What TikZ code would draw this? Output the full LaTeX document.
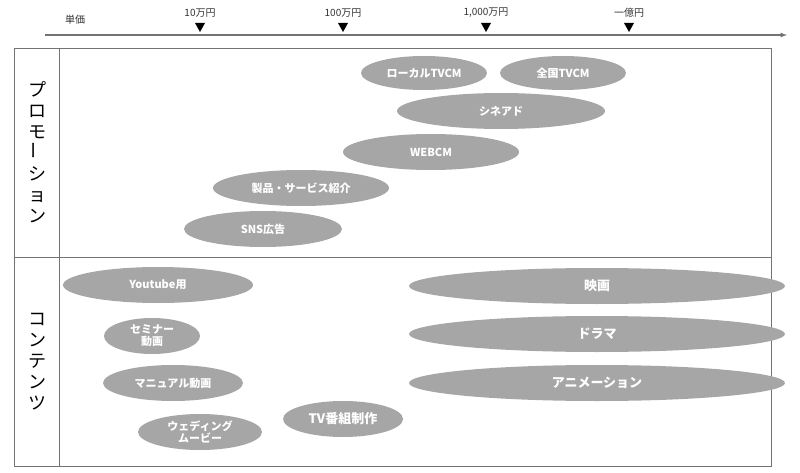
\documentclass[tikz,border=0pt]{standalone}
\usepackage{fontspec}
\setmainfont{Noto Sans CJK JP}
\begin{document}
\begin{tikzpicture}[x=1pt,y=-1pt,
  ell/.style={ellipse,fill=black!35,text=white,font=\bfseries\fontsize{11}{12}\selectfont,inner sep=0pt,align=center},
  tri/.style={fill=black,draw=none},
  lbl/.style={font=\fontsize{10}{12}\selectfont,text=black!80}]
\useasboundingbox (0,0) rectangle (800,473);
\usetikzlibrary{shapes.geometric}
\draw[black!55,line width=1.2pt,-latex] (45,35) -- (787,35);
\node[lbl] (tanka) at (75,20) {単価};
\foreach \x/\t/\n in {200/10万円/a,343/100万円/b,486/{1,000万円}/c,629/一億円/d}{
  \node[lbl] (l\n) at (\x,13) {\t};
  \fill (\x-5,23) -- (\x+5,23) -- (\x,32) -- cycle;
}
\draw[black!55,line width=0.8pt] (14,48) rectangle (771,466);
\draw[black!55,line width=0.8pt] (14,257) -- (771,257);
\draw[black!55,line width=0.8pt] (59,48) -- (59,466);
\node[font=\fontsize{18}{21}\selectfont,align=center] (promo) at (37,152) {プ\\ロ\\モ\\\rotatebox{90}{ー}\\シ\\ョ\\ン};
\node[font=\fontsize{18}{21}\selectfont,align=center] (cont) at (37,362) {コ\\ン\\テ\\ン\\ツ};
\node[ell,minimum width=126,minimum height=34] (e1) at (424,73) {ローカルTVCM};
\node[ell,minimum width=126,minimum height=34] (e2) at (563,73) {全国TVCM};
\node[ell,minimum width=208,minimum height=36] (e3) at (501,111) {シネアド};
\node[ell,minimum width=176,minimum height=36] (e4) at (431,152) {WEBCM};
\node[ell,minimum width=176,minimum height=36] (e5) at (301,188) {製品・サービス紹介};
\node[ell,minimum width=158,minimum height=36] (e6) at (263,229) {SNS広告};
\node[ell,minimum width=190,minimum height=36] (e7) at (158,285) {Youtube用};
\node[ell,minimum width=96,minimum height=36] (e8) at (152,336) {セミナー\\動画};
\node[ell,minimum width=140,minimum height=36] (e9) at (173,383) {マニュアル動画};
\node[ell,minimum width=124,minimum height=36] (e10) at (200,432) {ウェディング\\ムービー};
\node[ell,minimum width=120,minimum height=36,font=\bfseries\fontsize{13}{14}\selectfont] (e11) at (343,419) {TV番組制作};
\node[ell,minimum width=376,minimum height=36,font=\bfseries\fontsize{13}{14}\selectfont] (e12) at (597,286) {映画};
\node[ell,minimum width=376,minimum height=36,font=\bfseries\fontsize{13}{14}\selectfont] (e13) at (597,334) {ドラマ};
\node[ell,minimum width=376,minimum height=36,font=\bfseries\fontsize{13}{14}\selectfont] (e14) at (597,383) {アニメーション};
\end{tikzpicture}
\end{document}
